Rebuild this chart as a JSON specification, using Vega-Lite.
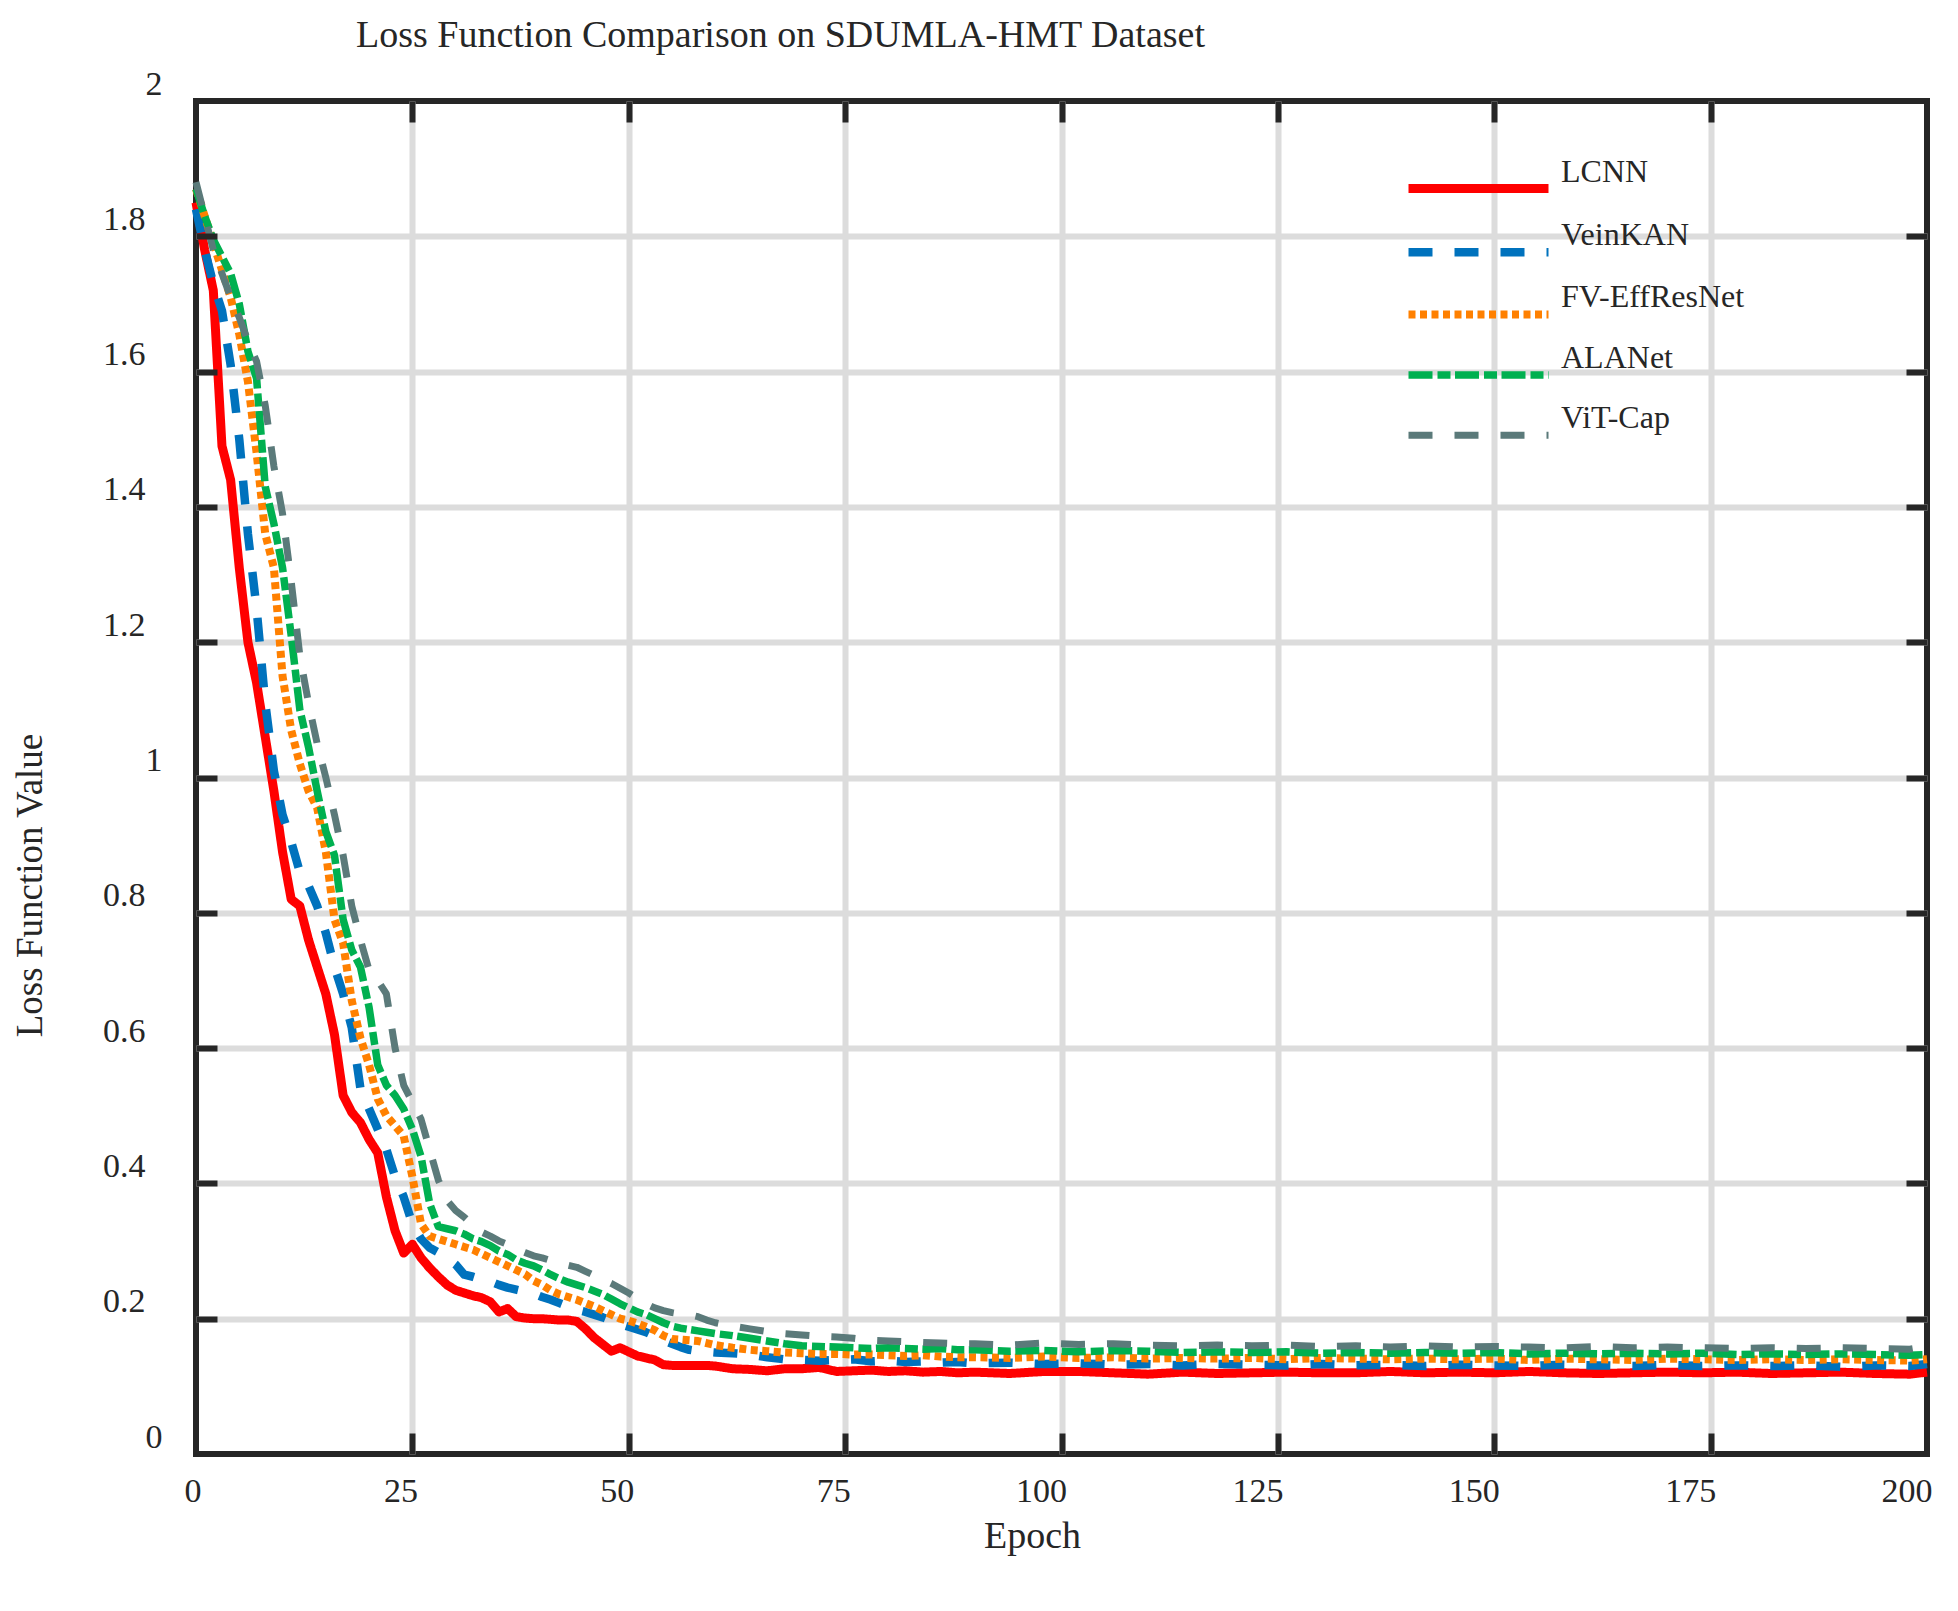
{
"$schema": "https://vega.github.io/schema/vega-lite/v6.json",
"width": 1731, "height": 1353,
"autosize": {"type": "none"},
"padding": {"left": 196, "top": 101, "right": 31, "bottom": 157},
"background": "white",
"title": {"text": "Loss Function Comparison on SDUMLA-HMT Dataset", "anchor": "middle", "dx": -281, "offset": -18, "baseline": "alphabetic", "font": "Liberation Serif", "fontSize": 38, "fontWeight": "normal", "color": "#262626"},
"config": {"view": {"stroke": "#262626", "strokeWidth": 6}, "font": "Liberation Serif"},
"data": {"values": [
{"Epoch":0,"LCNN":1.85,"VeinKAN":1.84,"FV-EffResNet":1.87,"ALANet":1.87,"ViT-Cap":1.88},
{"Epoch":1,"LCNN":1.78,"VeinKAN":1.78,"FV-EffResNet":1.83,"ALANet":1.83,"ViT-Cap":1.83},
{"Epoch":2,"LCNN":1.72,"VeinKAN":1.73,"FV-EffResNet":1.79,"ALANet":1.795,"ViT-Cap":1.78},
{"Epoch":3,"LCNN":1.49,"VeinKAN":1.69,"FV-EffResNet":1.75,"ALANet":1.77,"ViT-Cap":1.745},
{"Epoch":4,"LCNN":1.44,"VeinKAN":1.61,"FV-EffResNet":1.71,"ALANet":1.745,"ViT-Cap":1.71},
{"Epoch":5,"LCNN":1.31,"VeinKAN":1.5,"FV-EffResNet":1.655,"ALANet":1.7,"ViT-Cap":1.68},
{"Epoch":6,"LCNN":1.2,"VeinKAN":1.36,"FV-EffResNet":1.585,"ALANet":1.63,"ViT-Cap":1.645},
{"Epoch":7,"LCNN":1.14,"VeinKAN":1.25,"FV-EffResNet":1.48,"ALANet":1.59,"ViT-Cap":1.615},
{"Epoch":8,"LCNN":1.06,"VeinKAN":1.11,"FV-EffResNet":1.36,"ALANet":1.43,"ViT-Cap":1.55},
{"Epoch":9,"LCNN":0.98,"VeinKAN":1.01,"FV-EffResNet":1.31,"ALANet":1.375,"ViT-Cap":1.46},
{"Epoch":10,"LCNN":0.89,"VeinKAN":0.945,"FV-EffResNet":1.15,"ALANet":1.31,"ViT-Cap":1.39},
{"Epoch":11,"LCNN":0.82,"VeinKAN":0.905,"FV-EffResNet":1.07,"ALANet":1.21,"ViT-Cap":1.29},
{"Epoch":12,"LCNN":0.81,"VeinKAN":0.86,"FV-EffResNet":1.02,"ALANet":1.1,"ViT-Cap":1.18},
{"Epoch":13,"LCNN":0.76,"VeinKAN":0.84,"FV-EffResNet":0.98,"ALANet":1.045,"ViT-Cap":1.11},
{"Epoch":14,"LCNN":0.72,"VeinKAN":0.81,"FV-EffResNet":0.955,"ALANet":0.98,"ViT-Cap":1.05},
{"Epoch":15,"LCNN":0.68,"VeinKAN":0.77,"FV-EffResNet":0.89,"ALANet":0.92,"ViT-Cap":1.0},
{"Epoch":16,"LCNN":0.62,"VeinKAN":0.72,"FV-EffResNet":0.79,"ALANet":0.885,"ViT-Cap":0.945},
{"Epoch":17,"LCNN":0.53,"VeinKAN":0.68,"FV-EffResNet":0.755,"ALANet":0.79,"ViT-Cap":0.885},
{"Epoch":18,"LCNN":0.505,"VeinKAN":0.63,"FV-EffResNet":0.67,"ALANet":0.745,"ViT-Cap":0.81},
{"Epoch":19,"LCNN":0.49,"VeinKAN":0.54,"FV-EffResNet":0.615,"ALANet":0.72,"ViT-Cap":0.76},
{"Epoch":20,"LCNN":0.465,"VeinKAN":0.51,"FV-EffResNet":0.575,"ALANet":0.66,"ViT-Cap":0.715},
{"Epoch":21,"LCNN":0.445,"VeinKAN":0.48,"FV-EffResNet":0.525,"ALANet":0.575,"ViT-Cap":0.7},
{"Epoch":22,"LCNN":0.38,"VeinKAN":0.45,"FV-EffResNet":0.5,"ALANet":0.545,"ViT-Cap":0.68},
{"Epoch":23,"LCNN":0.33,"VeinKAN":0.41,"FV-EffResNet":0.485,"ALANet":0.53,"ViT-Cap":0.6},
{"Epoch":24,"LCNN":0.297,"VeinKAN":0.38,"FV-EffResNet":0.47,"ALANet":0.51,"ViT-Cap":0.545},
{"Epoch":25,"LCNN":0.31,"VeinKAN":0.34,"FV-EffResNet":0.41,"ALANet":0.48,"ViT-Cap":0.52},
{"Epoch":26,"LCNN":0.29,"VeinKAN":0.318,"FV-EffResNet":0.34,"ALANet":0.44,"ViT-Cap":0.495},
{"Epoch":27,"LCNN":0.275,"VeinKAN":0.305,"FV-EffResNet":0.322,"ALANet":0.37,"ViT-Cap":0.45},
{"Epoch":28,"LCNN":0.262,"VeinKAN":0.298,"FV-EffResNet":0.318,"ALANet":0.336,"ViT-Cap":0.405},
{"Epoch":29,"LCNN":0.25,"VeinKAN":0.29,"FV-EffResNet":0.314,"ALANet":0.333,"ViT-Cap":0.375},
{"Epoch":30,"LCNN":0.242,"VeinKAN":0.28,"FV-EffResNet":0.31,"ALANet":0.33,"ViT-Cap":0.36},
{"Epoch":31,"LCNN":0.238,"VeinKAN":0.265,"FV-EffResNet":0.306,"ALANet":0.325,"ViT-Cap":0.35},
{"Epoch":32,"LCNN":0.234,"VeinKAN":0.262,"FV-EffResNet":0.302,"ALANet":0.318,"ViT-Cap":0.338},
{"Epoch":33,"LCNN":0.231,"VeinKAN":0.258,"FV-EffResNet":0.296,"ALANet":0.314,"ViT-Cap":0.328},
{"Epoch":34,"LCNN":0.225,"VeinKAN":0.255,"FV-EffResNet":0.29,"ALANet":0.308,"ViT-Cap":0.322},
{"Epoch":35,"LCNN":0.21,"VeinKAN":0.25,"FV-EffResNet":0.284,"ALANet":0.3,"ViT-Cap":0.315},
{"Epoch":36,"LCNN":0.215,"VeinKAN":0.246,"FV-EffResNet":0.278,"ALANet":0.295,"ViT-Cap":0.31},
{"Epoch":37,"LCNN":0.203,"VeinKAN":0.243,"FV-EffResNet":0.272,"ALANet":0.287,"ViT-Cap":0.303},
{"Epoch":38,"LCNN":0.201,"VeinKAN":0.24,"FV-EffResNet":0.266,"ALANet":0.282,"ViT-Cap":0.298},
{"Epoch":39,"LCNN":0.2,"VeinKAN":0.237,"FV-EffResNet":0.256,"ALANet":0.278,"ViT-Cap":0.293},
{"Epoch":40,"LCNN":0.2,"VeinKAN":0.232,"FV-EffResNet":0.25,"ALANet":0.272,"ViT-Cap":0.29},
{"Epoch":41,"LCNN":0.199,"VeinKAN":0.228,"FV-EffResNet":0.242,"ALANet":0.265,"ViT-Cap":0.286},
{"Epoch":42,"LCNN":0.198,"VeinKAN":0.223,"FV-EffResNet":0.236,"ALANet":0.259,"ViT-Cap":0.282},
{"Epoch":43,"LCNN":0.198,"VeinKAN":0.218,"FV-EffResNet":0.232,"ALANet":0.254,"ViT-Cap":0.279},
{"Epoch":44,"LCNN":0.196,"VeinKAN":0.213,"FV-EffResNet":0.228,"ALANet":0.25,"ViT-Cap":0.276},
{"Epoch":45,"LCNN":0.185,"VeinKAN":0.21,"FV-EffResNet":0.223,"ALANet":0.246,"ViT-Cap":0.27},
{"Epoch":46,"LCNN":0.172,"VeinKAN":0.206,"FV-EffResNet":0.218,"ALANet":0.241,"ViT-Cap":0.264},
{"Epoch":47,"LCNN":0.162,"VeinKAN":0.202,"FV-EffResNet":0.212,"ALANet":0.236,"ViT-Cap":0.258},
{"Epoch":48,"LCNN":0.152,"VeinKAN":0.197,"FV-EffResNet":0.206,"ALANet":0.229,"ViT-Cap":0.252},
{"Epoch":49,"LCNN":0.157,"VeinKAN":0.192,"FV-EffResNet":0.2,"ALANet":0.222,"ViT-Cap":0.245},
{"Epoch":50,"LCNN":0.151,"VeinKAN":0.188,"FV-EffResNet":0.197,"ALANet":0.216,"ViT-Cap":0.238},
{"Epoch":51,"LCNN":0.145,"VeinKAN":0.184,"FV-EffResNet":0.193,"ALANet":0.21,"ViT-Cap":0.23},
{"Epoch":52,"LCNN":0.142,"VeinKAN":0.18,"FV-EffResNet":0.188,"ALANet":0.206,"ViT-Cap":0.222},
{"Epoch":53,"LCNN":0.139,"VeinKAN":0.174,"FV-EffResNet":0.183,"ALANet":0.2,"ViT-Cap":0.216},
{"Epoch":54,"LCNN":0.132,"VeinKAN":0.168,"FV-EffResNet":0.175,"ALANet":0.194,"ViT-Cap":0.212},
{"Epoch":55,"LCNN":0.131,"VeinKAN":0.163,"FV-EffResNet":0.17,"ALANet":0.189,"ViT-Cap":0.209},
{"Epoch":56,"LCNN":0.131,"VeinKAN":0.158,"FV-EffResNet":0.169,"ALANet":0.186,"ViT-Cap":0.207},
{"Epoch":57,"LCNN":0.131,"VeinKAN":0.154,"FV-EffResNet":0.168,"ALANet":0.184,"ViT-Cap":0.206},
{"Epoch":58,"LCNN":0.131,"VeinKAN":0.152,"FV-EffResNet":0.167,"ALANet":0.182,"ViT-Cap":0.203},
{"Epoch":59,"LCNN":0.131,"VeinKAN":0.151,"FV-EffResNet":0.164,"ALANet":0.18,"ViT-Cap":0.198},
{"Epoch":60,"LCNN":0.13,"VeinKAN":0.15,"FV-EffResNet":0.161,"ALANet":0.178,"ViT-Cap":0.194},
{"Epoch":62,"LCNN":0.126,"VeinKAN":0.149,"FV-EffResNet":0.157,"ALANet":0.175,"ViT-Cap":0.189},
{"Epoch":64,"LCNN":0.125,"VeinKAN":0.147,"FV-EffResNet":0.154,"ALANet":0.171,"ViT-Cap":0.185},
{"Epoch":66,"LCNN":0.123,"VeinKAN":0.143,"FV-EffResNet":0.152,"ALANet":0.167,"ViT-Cap":0.181},
{"Epoch":68,"LCNN":0.126,"VeinKAN":0.14,"FV-EffResNet":0.15,"ALANet":0.163,"ViT-Cap":0.178},
{"Epoch":70,"LCNN":0.126,"VeinKAN":0.139,"FV-EffResNet":0.149,"ALANet":0.16,"ViT-Cap":0.176},
{"Epoch":72,"LCNN":0.128,"VeinKAN":0.138,"FV-EffResNet":0.148,"ALANet":0.159,"ViT-Cap":0.174},
{"Epoch":74,"LCNN":0.122,"VeinKAN":0.139,"FV-EffResNet":0.148,"ALANet":0.158,"ViT-Cap":0.173},
{"Epoch":76,"LCNN":0.123,"VeinKAN":0.14,"FV-EffResNet":0.147,"ALANet":0.157,"ViT-Cap":0.171},
{"Epoch":78,"LCNN":0.124,"VeinKAN":0.137,"FV-EffResNet":0.147,"ALANet":0.156,"ViT-Cap":0.168},
{"Epoch":80,"LCNN":0.122,"VeinKAN":0.138,"FV-EffResNet":0.146,"ALANet":0.157,"ViT-Cap":0.167},
{"Epoch":82,"LCNN":0.123,"VeinKAN":0.136,"FV-EffResNet":0.145,"ALANet":0.156,"ViT-Cap":0.166},
{"Epoch":84,"LCNN":0.121,"VeinKAN":0.137,"FV-EffResNet":0.146,"ALANet":0.155,"ViT-Cap":0.165},
{"Epoch":86,"LCNN":0.122,"VeinKAN":0.135,"FV-EffResNet":0.144,"ALANet":0.156,"ViT-Cap":0.164},
{"Epoch":88,"LCNN":0.12,"VeinKAN":0.136,"FV-EffResNet":0.143,"ALANet":0.154,"ViT-Cap":0.163},
{"Epoch":90,"LCNN":0.121,"VeinKAN":0.134,"FV-EffResNet":0.143,"ALANet":0.154,"ViT-Cap":0.163},
{"Epoch":94,"LCNN":0.119,"VeinKAN":0.135,"FV-EffResNet":0.142,"ALANet":0.152,"ViT-Cap":0.161},
{"Epoch":98,"LCNN":0.122,"VeinKAN":0.133,"FV-EffResNet":0.144,"ALANet":0.153,"ViT-Cap":0.164},
{"Epoch":102,"LCNN":0.122,"VeinKAN":0.134,"FV-EffResNet":0.142,"ALANet":0.151,"ViT-Cap":0.162},
{"Epoch":106,"LCNN":0.12,"VeinKAN":0.132,"FV-EffResNet":0.143,"ALANet":0.153,"ViT-Cap":0.163},
{"Epoch":110,"LCNN":0.118,"VeinKAN":0.133,"FV-EffResNet":0.141,"ALANet":0.152,"ViT-Cap":0.161},
{"Epoch":114,"LCNN":0.121,"VeinKAN":0.131,"FV-EffResNet":0.142,"ALANet":0.15,"ViT-Cap":0.16},
{"Epoch":118,"LCNN":0.119,"VeinKAN":0.133,"FV-EffResNet":0.141,"ALANet":0.151,"ViT-Cap":0.161},
{"Epoch":122,"LCNN":0.12,"VeinKAN":0.132,"FV-EffResNet":0.142,"ALANet":0.15,"ViT-Cap":0.16},
{"Epoch":126,"LCNN":0.121,"VeinKAN":0.131,"FV-EffResNet":0.14,"ALANet":0.151,"ViT-Cap":0.161},
{"Epoch":130,"LCNN":0.12,"VeinKAN":0.133,"FV-EffResNet":0.142,"ALANet":0.149,"ViT-Cap":0.159},
{"Epoch":134,"LCNN":0.12,"VeinKAN":0.131,"FV-EffResNet":0.141,"ALANet":0.15,"ViT-Cap":0.16},
{"Epoch":138,"LCNN":0.122,"VeinKAN":0.132,"FV-EffResNet":0.14,"ALANet":0.149,"ViT-Cap":0.158},
{"Epoch":142,"LCNN":0.12,"VeinKAN":0.13,"FV-EffResNet":0.141,"ALANet":0.15,"ViT-Cap":0.16},
{"Epoch":146,"LCNN":0.121,"VeinKAN":0.132,"FV-EffResNet":0.14,"ALANet":0.149,"ViT-Cap":0.158},
{"Epoch":150,"LCNN":0.12,"VeinKAN":0.131,"FV-EffResNet":0.141,"ALANet":0.15,"ViT-Cap":0.159},
{"Epoch":154,"LCNN":0.122,"VeinKAN":0.13,"FV-EffResNet":0.139,"ALANet":0.148,"ViT-Cap":0.158},
{"Epoch":158,"LCNN":0.12,"VeinKAN":0.132,"FV-EffResNet":0.141,"ALANet":0.149,"ViT-Cap":0.157},
{"Epoch":162,"LCNN":0.119,"VeinKAN":0.131,"FV-EffResNet":0.14,"ALANet":0.148,"ViT-Cap":0.159},
{"Epoch":166,"LCNN":0.12,"VeinKAN":0.13,"FV-EffResNet":0.139,"ALANet":0.149,"ViT-Cap":0.157},
{"Epoch":170,"LCNN":0.121,"VeinKAN":0.132,"FV-EffResNet":0.141,"ALANet":0.148,"ViT-Cap":0.158},
{"Epoch":174,"LCNN":0.12,"VeinKAN":0.13,"FV-EffResNet":0.14,"ALANet":0.149,"ViT-Cap":0.157},
{"Epoch":178,"LCNN":0.121,"VeinKAN":0.131,"FV-EffResNet":0.139,"ALANet":0.147,"ViT-Cap":0.156},
{"Epoch":182,"LCNN":0.119,"VeinKAN":0.13,"FV-EffResNet":0.14,"ALANet":0.148,"ViT-Cap":0.157},
{"Epoch":186,"LCNN":0.12,"VeinKAN":0.131,"FV-EffResNet":0.139,"ALANet":0.147,"ViT-Cap":0.156},
{"Epoch":190,"LCNN":0.121,"VeinKAN":0.129,"FV-EffResNet":0.14,"ALANet":0.148,"ViT-Cap":0.157},
{"Epoch":194,"LCNN":0.119,"VeinKAN":0.131,"FV-EffResNet":0.139,"ALANet":0.147,"ViT-Cap":0.156},
{"Epoch":198,"LCNN":0.118,"VeinKAN":0.13,"FV-EffResNet":0.138,"ALANet":0.146,"ViT-Cap":0.155},
{"Epoch":200,"LCNN":0.121,"VeinKAN":0.133,"FV-EffResNet":0.14,"ALANet":0.147,"ViT-Cap":0.159}
]},
"transform": [{"fold": ["LCNN", "VeinKAN", "FV-EffResNet", "ALANet", "ViT-Cap"], "as": ["Model", "Loss"]}],
"resolve": {"axis": {"x": "independent", "y": "independent"}},
"layer": [
{
"mark": {"type": "line", "strokeCap": "butt", "strokeJoin": "round"},
"encoding": {
"x": {"field": "Epoch", "type": "quantitative", "scale": {"domain": [0, 200], "nice": false, "zero": false},
"axis": {"orient": "bottom", "values": [0, 25, 50, 75, 100, 125, 150, 175, 200], "grid": true, "gridColor": "#dcdcdc", "gridWidth": 6,
"gridOpacity": {"condition": {"test": "datum.value === 0 || datum.value === 200", "value": 0}, "value": 1},
"domain": false, "ticks": false,
"labelFont": "Liberation Serif", "labelFontSize": 34, "labelColor": "#262626", "labelAlign": "right", "labelOffset": 5, "labelBaseline": "top", "labelPadding": 20, "labelFlush": false, "labelOverlap": false, "labelBound": false,
"title": "Epoch", "titleFont": "Liberation Serif", "titleFontSize": 38, "titleFontWeight": "normal", "titleColor": "#262626", "titleX": 836, "titleY": 93, "titleAlign": "center", "titleBaseline": "alphabetic", "titleAnchor": null}},
"y": {"field": "Loss", "type": "quantitative", "scale": {"domain": [0, 2], "nice": false, "zero": false},
"axis": {"orient": "left", "values": [0, 0.2, 0.4, 0.6, 0.8, 1, 1.2, 1.4, 1.6, 1.8, 2], "format": "~g", "grid": true, "gridColor": "#dcdcdc", "gridWidth": 6,
"gridOpacity": {"condition": {"test": "datum.value === 0 || datum.value === 2", "value": 0}, "value": 1},
"domain": false, "ticks": false,
"labelFont": "Liberation Serif", "labelFontSize": 34, "labelColor": "#262626", "labelAlign": "right", "labelBaseline": "middle", "labelOffset": -17,
"labelPadding": {"condition": {"test": "datum.value % 1 === 0", "value": 34}, "value": 51},
"labelFlush": false, "labelOverlap": false, "labelBound": false,
"title": "Loss Function Value", "titleFont": "Liberation Serif", "titleFontSize": 37, "titleFontWeight": "normal", "titleColor": "#262626", "titleX": -155, "titleY": 784, "titleAngle": -90, "titleAlign": "center", "titleBaseline": "alphabetic", "titleAnchor": null}},
"color": {"field": "Model", "type": "nominal",
"scale": {"domain": ["LCNN", "VeinKAN", "FV-EffResNet", "ALANet", "ViT-Cap"], "range": ["#ff0000", "#0072bd", "#ff8000", "#00b050", "#5b7a7a"]},
"legend": {"orient": "none", "legendX": 1264, "legendY": 69, "title": null, "symbolType": "M-5,0H5", "symbolSize": 784, "symbolStrokeWidth": 7,
"labelFont": "Liberation Serif", "labelFontSize": 32, "labelColor": "#262626", "labelBaseline": "bottom", "labelOffset": 64, "labelLimit": 0, "rowPadding": 11.7, "padding": 0}},
"strokeDash": {"field": "Model", "type": "nominal",
"scale": {"domain": ["LCNN", "VeinKAN", "FV-EffResNet", "ALANet", "ViT-Cap"], "range": [[1, 0], [24, 22], [7, 4.5], [24, 5, 13, 4.5], [24, 22]]}},
"strokeWidth": {"field": "Model", "type": "nominal",
"scale": {"domain": ["LCNN", "VeinKAN", "FV-EffResNet", "ALANet", "ViT-Cap"], "range": [9, 7, 7, 7, 7]}}
}
},
{
"mark": {"type": "point", "opacity": 0},
"encoding": {
"x": {"field": "Epoch", "type": "quantitative", "scale": {"domain": [0, 200], "nice": false, "zero": false},
"axis": {"orient": "bottom", "values": [25, 50, 75, 100, 125, 150, 175], "offset": -21, "tickSize": 21, "tickWidth": 6, "tickColor": "#262626", "domain": false, "labels": false, "grid": false, "title": null, "zindex": 1}},
"y": {"field": "Loss", "type": "quantitative", "scale": {"domain": [0, 2], "nice": false, "zero": false},
"axis": {"orient": "left", "values": [0.2, 0.4, 0.6, 0.8, 1, 1.2, 1.4, 1.6, 1.8], "offset": -21, "tickSize": 21, "tickWidth": 6, "tickColor": "#262626", "domain": false, "labels": false, "grid": false, "title": null, "zindex": 1}}
}
},
{
"mark": {"type": "point", "opacity": 0},
"encoding": {
"x": {"field": "Epoch", "type": "quantitative", "scale": {"domain": [0, 200], "nice": false, "zero": false},
"axis": {"orient": "top", "values": [25, 50, 75, 100, 125, 150, 175], "offset": -21, "tickSize": 21, "tickWidth": 6, "tickColor": "#262626", "domain": false, "labels": false, "grid": false, "title": null, "zindex": 1}},
"y": {"field": "Loss", "type": "quantitative", "scale": {"domain": [0, 2], "nice": false, "zero": false},
"axis": {"orient": "right", "values": [0.2, 0.4, 0.6, 0.8, 1, 1.2, 1.4, 1.6, 1.8], "offset": -21, "tickSize": 21, "tickWidth": 6, "tickColor": "#262626", "domain": false, "labels": false, "grid": false, "title": null, "zindex": 1}}
}
}
]
}
